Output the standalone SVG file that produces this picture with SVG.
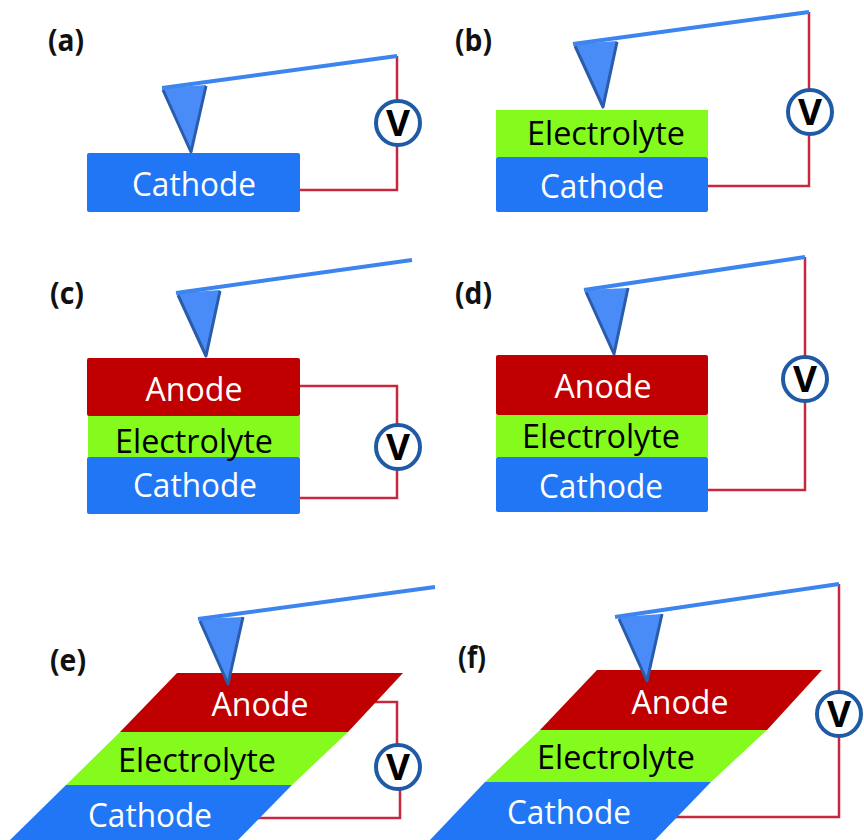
<svg xmlns="http://www.w3.org/2000/svg" width="864" height="840" viewBox="0 0 864 840">
<style>
text{font-family:"Open Sans","Noto Sans","Liberation Sans",sans-serif}
.lbl{font-size:30px;font-weight:700;fill:#111}
.w{font-size:33px;fill:#fff;text-anchor:middle}
.k{font-size:33px;fill:#000;text-anchor:middle}
.cat{fill:#2176f5}.ano{fill:#c00000}.ele{fill:#84fb1c}
.wire{fill:none;stroke:#c6283f;stroke-width:2.5}
.arm{fill:none;stroke:#3d85ee;stroke-width:4}
.tip{fill:#4a8cf7;stroke:none}
.edge{fill:none;stroke:#2a5cab;stroke-width:3;stroke-linejoin:round}
.vc{fill:#fff;stroke:#1f5aa5;stroke-width:4}
.v{font-size:35px;font-weight:700;fill:#000;text-anchor:middle}
</style>
<defs>
<g id="meter"><circle class="vc" r="22"/><text class="v" y="13" textLength="24" lengthAdjust="spacingAndGlyphs">V</text></g>
</defs>

<g id="connectors">
<path class="wire" d="M397 56V102M397 145V190H300"/>
<path class="wire" d="M809 12V90M809 134V186H708"/>
<path class="wire" d="M300 386H397V425M397 469V498H300"/>
<path class="wire" d="M805 257V357M805 401V490H708"/>
<path class="wire" d="M373 702H397V745M400 789V818H255"/>
<path class="wire" d="M839 584V692M839 736V817H673"/>
</g>

<g id="panel-a">
<text class="lbl" x="48" y="51" textLength="36" lengthAdjust="spacingAndGlyphs">(a)</text>
<rect class="cat" x="87" y="153" width="213" height="59" rx="2"/>
<text class="w" x="194" y="196" textLength="124" lengthAdjust="spacingAndGlyphs">Cathode</text>
<path class="tip" d="M162 88L206 85L191 152Z"/>
<path class="edge" d="M163 90L191 152L206 86"/>
<path class="arm" d="M162 88L397 56"/>
<use href="#meter" x="398" y="123"/>
</g>

<g id="panel-b">
<text class="lbl" x="455" y="51" textLength="37" lengthAdjust="spacingAndGlyphs">(b)</text>
<rect class="ele" x="496" y="110" width="212" height="47"/>
<rect class="cat" x="496" y="157" width="212" height="55" rx="2"/>
<text class="k" x="606" y="145" textLength="158" lengthAdjust="spacingAndGlyphs">Electrolyte</text>
<text class="w" x="602" y="198" textLength="124" lengthAdjust="spacingAndGlyphs">Cathode</text>
<path class="tip" d="M574 44L617 41L603 107Z"/>
<path class="edge" d="M575 46L603 107L617 42"/>
<path class="arm" d="M573 44L809 12"/>
<use href="#meter" x="810" y="112"/>
</g>

<g id="panel-c">
<text class="lbl" x="50" y="304" textLength="34" lengthAdjust="spacingAndGlyphs">(c)</text>
<rect class="cat" x="87" y="457" width="213" height="57" rx="2"/>
<rect class="ele" x="88" y="416" width="212" height="41"/>
<rect class="ano" x="87" y="358" width="213" height="58" rx="2"/>
<text class="w" x="194" y="401" textLength="97" lengthAdjust="spacingAndGlyphs">Anode</text>
<text class="k" x="194" y="453" textLength="158" lengthAdjust="spacingAndGlyphs">Electrolyte</text>
<text class="w" x="195" y="497" textLength="124" lengthAdjust="spacingAndGlyphs">Cathode</text>
<path class="tip" d="M177 293L220 290L206 356Z"/>
<path class="edge" d="M178 295L206 356L220 291"/>
<path class="arm" d="M176 293L412 260"/>
<use href="#meter" x="398" y="447"/>
</g>

<g id="panel-d">
<text class="lbl" x="455" y="304" textLength="37" lengthAdjust="spacingAndGlyphs">(d)</text>
<rect class="cat" x="496" y="457" width="212" height="55" rx="2"/>
<rect class="ele" x="496" y="415" width="212" height="42"/>
<rect class="ano" x="496" y="355" width="212" height="60" rx="2"/>
<text class="w" x="603" y="398" textLength="97" lengthAdjust="spacingAndGlyphs">Anode</text>
<text class="k" x="601" y="448" textLength="158" lengthAdjust="spacingAndGlyphs">Electrolyte</text>
<text class="w" x="601" y="498" textLength="124" lengthAdjust="spacingAndGlyphs">Cathode</text>
<path class="tip" d="M585 290L628 288L614 354Z"/>
<path class="edge" d="M586 292L614 354L628 288"/>
<path class="arm" d="M584 290L805 257"/>
<use href="#meter" x="805" y="379"/>
</g>

<g id="panel-e">
<text class="lbl" x="50" y="671" textLength="36" lengthAdjust="spacingAndGlyphs">(e)</text>
<path class="cat" d="M66 785H292L238 840H10Z"/>
<path class="ele" d="M120 732H348L292 785H66Z"/>
<path class="ano" d="M177 673H403L348 732H120Z"/>
<text class="w" x="260" y="716" textLength="97" lengthAdjust="spacingAndGlyphs">Anode</text>
<text class="k" x="197" y="772" textLength="158" lengthAdjust="spacingAndGlyphs">Electrolyte</text>
<text class="w" x="150" y="827" textLength="124" lengthAdjust="spacingAndGlyphs">Cathode</text>
<path class="tip" d="M199 619L243 617L228 684Z"/>
<path class="edge" d="M200 621L228 684L243 617"/>
<path class="arm" d="M198 619L435 587"/>
<use href="#meter" x="398" y="767"/>
</g>

<g id="panel-f">
<text class="lbl" x="458" y="668" textLength="28" lengthAdjust="spacingAndGlyphs">(f)</text>
<path class="cat" d="M485 782H711L655 840H430Z"/>
<path class="ele" d="M540 730H767L711 782H485Z"/>
<path class="ano" d="M597 670H822L767 730H540Z"/>
<text class="w" x="680" y="714" textLength="97" lengthAdjust="spacingAndGlyphs">Anode</text>
<text class="k" x="616" y="769" textLength="158" lengthAdjust="spacingAndGlyphs">Electrolyte</text>
<text class="w" x="569" y="824" textLength="124" lengthAdjust="spacingAndGlyphs">Cathode</text>
<path class="tip" d="M618 617L662 614L647 681Z"/>
<path class="edge" d="M619 619L647 681L662 614"/>
<path class="arm" d="M615 617L839 584"/>
<use href="#meter" x="839" y="714"/>
</g>
</svg>
